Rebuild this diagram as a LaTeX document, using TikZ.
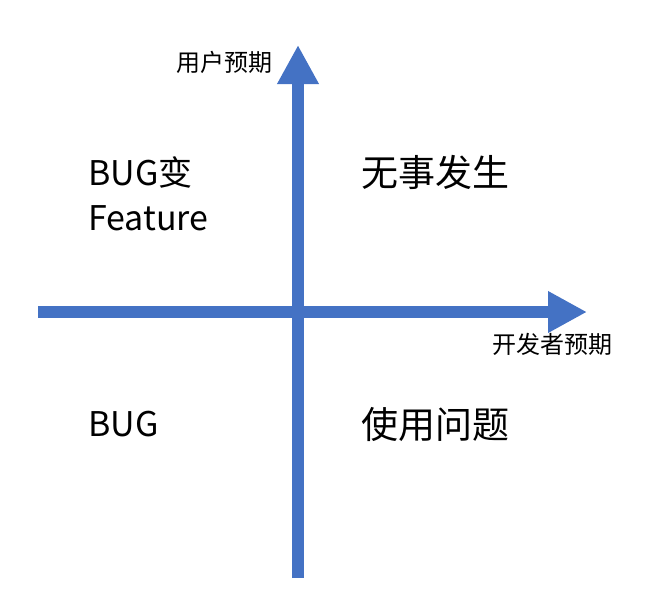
\documentclass[tikz,border=0pt]{standalone}
\usepackage{fontspec}
\setmainfont{Noto Sans CJK SC}
\usetikzlibrary{arrows.meta}
\tikzset{
  axis/.style={draw={rgb,255:red,68;green,114;blue,196}, line width=12.5pt,
    -{Triangle[width=39pt,length=39pt]}},
  quad/.style={anchor=west, inner sep=0pt, font=\fontsize{37}{42}\selectfont},
  quadlat/.style={quad, font=\fontsize{34}{40}\selectfont},
  axlabel/.style={anchor=west, inner sep=0pt, font=\fontsize{24}{28}\selectfont}
}
\begin{document}
\begin{tikzpicture}[x=1pt,y=-1pt]
\useasboundingbox (0,0) rectangle (659,603);

% axes
\coordinate (vbot) at (298,578);
\coordinate (vtop) at (298,45);
\coordinate (hleft) at (38,312);
\coordinate (hright) at (587,312);
\draw[axis] (vbot) -- (vtop);
\draw[axis] (hleft) -- (hright);

% axis labels
\node[axlabel] (ylab) at (176,62) {用户预期};
\node[axlabel] (xlab) at (492,344) {开发者预期};

% quadrants
\node[quadlat] (q2a) at (88,172) {BUG变};
\node[quadlat] (q2b) at (88,218) {Feature};
\node[quad] (q1) at (361,172) {无事发生};
\node[quadlat] (q3) at (88,424) {BUG};
\node[quad] (q4) at (361,424) {使用问题};
\end{tikzpicture}
\end{document}
